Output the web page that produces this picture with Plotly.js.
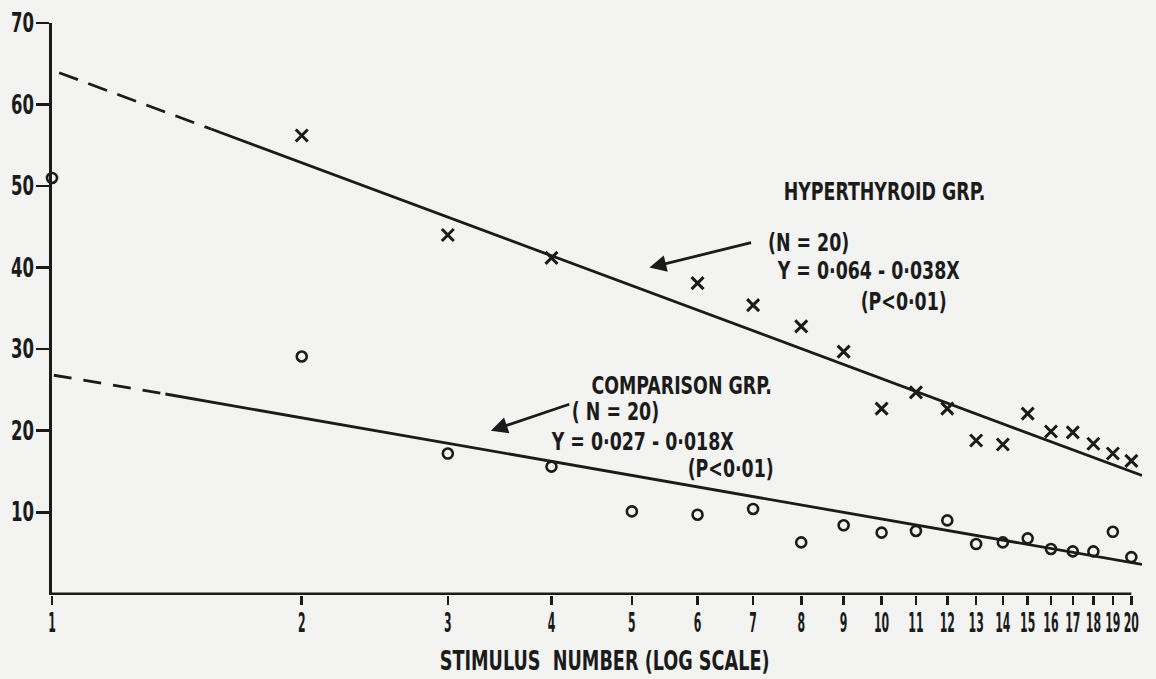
<!DOCTYPE html>
<html>
<head>
<meta charset="utf-8">
<script src="https://cdn.plot.ly/plotly-3.0.1.min.js"></script>
<style>
  html, body { margin: 0; padding: 0; background: #f3f3f1; }
  #chart { width: 1156px; height: 679px; }
</style>
</head>
<body>
<div id="chart"></div>
<script>
// ---- data ----
const stimulusTicks = [1,2,3,4,5,6,7,8,9,10,11,12,13,14,15,16,17,18,19,20];
const yTicks = [10,20,30,40,50,60,70];

// Hyperthyroid group (X markers)
const hyperX = [2,3,4,6,7,8,9,10,11,12,13,14,15,16,17,18,19,20];
const hyperY = [56.2,44.0,41.2,38.1,35.4,32.8,29.7,22.7,24.7,22.7,18.8,18.3,22.1,19.9,19.8,18.4,17.2,16.3];

// Comparison group (open circles)
const compX = [1,2,3,4,5,6,7,8,9,10,11,12,13,14,15,16,17,18,19,20];
const compY = [51.0,29.1,17.2,15.6,10.1,9.7,10.4,6.3,8.4,7.5,7.7,9.0,6.1,6.3,6.8,5.5,5.2,5.2,7.6,4.5];

// Regression lines (start, end of dashed part, end)
const hyperFitX = [1.02, 1.555, 20.6];
const hyperFitY = [63.9, 57.0, 14.5];
const compFitX = [1.005, 1.37, 20.6];
const compFitY = [26.8, 24.5, 3.6];

// x-axis baseline from first to last stimulus
const baseX = [1, 20];
const baseY = [0, 0];

const INK = '#1b1b1b';
const BG = '#f3f3f1';
const FONT = '"DejaVu Sans Condensed", "Liberation Sans Narrow", sans-serif';

const traces = [
  {x: hyperFitX.slice(0,2), y: hyperFitY.slice(0,2), mode: 'lines',
   line: {color: INK, width: 2.8, dash: '20px,11px'}, hoverinfo: 'skip'},
  {x: hyperFitX.slice(1), y: hyperFitY.slice(1), mode: 'lines',
   line: {color: INK, width: 2.8}, hoverinfo: 'skip'},
  {x: compFitX.slice(0,2), y: compFitY.slice(0,2), mode: 'lines',
   line: {color: INK, width: 2.8, dash: '18px,12px'}, hoverinfo: 'skip'},
  {x: compFitX.slice(1), y: compFitY.slice(1), mode: 'lines',
   line: {color: INK, width: 2.8}, hoverinfo: 'skip'},
  {x: baseX, y: baseY, mode: 'lines', line: {color: INK, width: 2.8}, hoverinfo: 'skip'},
  {x: hyperX, y: hyperY, mode: 'markers', name: 'Hyperthyroid grp.', cliponaxis: false,
   marker: {symbol: 'x-thin-open', size: 12, color: INK, line: {color: INK, width: 3}}},
  {x: compX, y: compY, mode: 'markers', name: 'Comparison grp.', cliponaxis: false,
   marker: {symbol: 'circle-open', size: 10, color: INK, line: {color: INK, width: 2.6}}}
];

const L = v => Math.log10(v);
const TF = {family: FONT, size: 26, color: INK, weight: 'bold'};
const AF = {family: FONT, size: 25, color: INK, weight: 'bold'};
const txt = (lx, y, text) => ({
  x: lx, y: y, xref: 'x', yref: 'y', text: text, showarrow: false,
  xanchor: 'center', yanchor: 'middle', font: AF
});
const arrow = (hx, hy, tx, ty) => ({
  x: L(hx), y: hy, ax: L(tx), ay: ty, xref: 'x', yref: 'y', axref: 'x', ayref: 'y',
  text: '', showarrow: true, arrowhead: 2, arrowsize: 1.2, arrowwidth: 2.8, arrowcolor: INK
});

const layout = {
  width: 1156, height: 679,
  margin: {l: 52, r: 14, t: 23, b: 84},
  paper_bgcolor: BG, plot_bgcolor: BG,
  showlegend: false,
  font: TF,
  xaxis: {
    type: 'log', range: [0, L(20.6)],
    tickmode: 'array', tickvals: stimulusTicks, ticktext: stimulusTicks.map(String),
    ticks: 'outside', ticklen: 9, tickwidth: 2.6, tickcolor: INK, tickangle: 0,
    ticklabelstandoff: -4,
    showline: false, showgrid: false, zeroline: false,
    tickfont: TF
  },
  yaxis: {
    range: [-0.15, 70],
    tickmode: 'array', tickvals: yTicks, ticktext: yTicks.map(String),
    ticks: 'outside', ticklen: 13, tickwidth: 2.6, tickcolor: INK,
    ticklabelstandoff: -3,
    showline: true, linewidth: 2.8, linecolor: INK,
    showgrid: false, zeroline: false,
    tickfont: TF
  },
  annotations: [
    txt(1.0039, 49.3, 'HYPERTHYROID GRP.'),
    txt(0.9122, 43.1, '(N = 20)'),
    txt(0.9834, 39.7, 'Y = 0·064 - 0·038X'),
    txt(1.0268, 35.9, '(P&lt;0·01)'),
    txt(0.7589, 25.6, 'COMPARISON GRP.'),
    txt(0.6793, 22.35, '( N = 20)'),
    txt(0.7107, 18.7, 'Y = 0·027 - 0·018X'),
    txt(0.8181, 15.35, '(P&lt;0·01)'),
    arrow(5.25, 40.0, 6.99, 43.1),
    arrow(3.38, 20.0, 4.22, 23.3),
    {x: 0.507, y: -0.116, xref: 'paper', yref: 'paper', showarrow: false,
     xanchor: 'center', yanchor: 'middle', text: 'STIMULUS  NUMBER (LOG SCALE)', font: TF}
  ]
};

Plotly.newPlot('chart', traces, layout, {staticPlot: true, displayModeBar: false}).then(gd => {
  // condense the lettering horizontally (about its anchor point), like the stencil font of the original
  const squeezeTo = (el, tw) => {
    const w = el.getComputedTextLength();
    if (!w) return;
    const s = tw / w;
    const x = parseFloat(el.getAttribute('x')) || 0;
    const prev = el.getAttribute('transform') || '';
    el.setAttribute('transform', prev + ' translate(' + x + ',0) scale(' + s + ',1) translate(' + (-x) + ',0)');
  };
  gd.querySelectorAll('.xtick text').forEach(t => squeezeTo(t, t.textContent.length * 7.6));
  gd.querySelectorAll('.ytick text').forEach(t => squeezeTo(t, t.textContent.length * 11.5));
  const ann = Array.from(gd.querySelectorAll('.annotation-text'));
  const ref = ann.find(t => t.textContent.indexOf('HYPERTHYROID') === 0);
  const f = ref ? 202 / ref.getComputedTextLength() : 0.8;
  ann.forEach(t => {
    if (!t.textContent.trim()) return;
    if (t.textContent.indexOf('STIMULUS') === 0) squeezeTo(t, 330);
    else squeezeTo(t, t.getComputedTextLength() * f);
  });
});
</script>
</body>
</html>
